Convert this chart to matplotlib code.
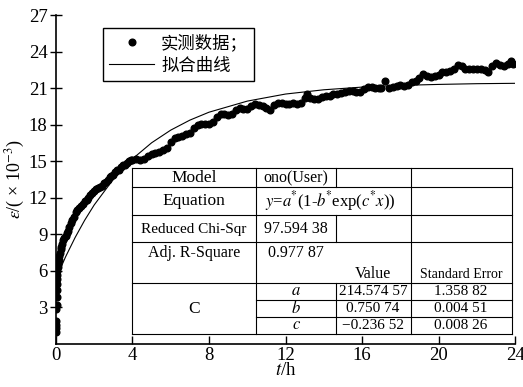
import matplotlib
matplotlib.use("Agg")
import matplotlib.pyplot as plt
from matplotlib.lines import Line2D

plt.rcParams['font.family'] = ['Liberation Serif', 'Noto Sans CJK SC']
plt.rcParams['mathtext.fontset'] = 'stix'

# measured strain (x 10^-3) vs time (h)
t_meas = [0.0, 0.0, 0.0, 0.0, 0.02, 0.03, 0.04, 0.05, 0.05, 0.06, 0.07, 0.08, 0.1, 0.12,
          0.14, 0.17, 0.2, 0.24, 0.28, 0.33, 0.38, 0.44, 0.5, 0.56, 0.62, 0.7, 0.78, 0.86,
          0.95, 1.04, 1.1, 1.2, 1.3, 1.4, 1.5, 1.6, 1.7, 1.8, 1.9, 2.0, 2.1, 2.2, 2.3, 2.4,
          2.5, 2.6, 2.7, 2.8, 2.9, 3.0, 3.1, 3.2, 3.3, 3.4, 3.5, 3.6, 3.7, 3.8, 3.9,
          4.0, 4.2, 4.4, 4.6, 4.8, 5.0, 5.2, 5.4, 5.6, 5.8, 6.0, 6.2, 6.4, 6.6, 6.8, 7.0,
          7.2, 7.4, 7.6, 7.8, 8.0, 8.2, 8.4, 8.6, 8.8, 9.0, 9.2, 9.4, 9.6, 9.8, 10.0, 10.2,
          10.4, 10.6, 10.8, 11.0, 11.2, 11.4, 11.6, 11.8, 12.0, 12.2, 12.4, 12.6, 12.8,
          13.0, 13.1, 13.3, 13.5, 13.7, 13.9, 14.1, 14.3, 14.5, 14.7, 14.9, 15.1, 15.3,
          15.5, 15.7, 15.9, 16.1, 16.3, 16.5, 16.7, 16.9, 17.0, 17.2, 17.4, 17.6, 17.8,
          18.0, 18.2, 18.4, 18.6, 18.8, 19.0, 19.2, 19.4, 19.6, 19.8, 20.0, 20.2, 20.4,
          20.6, 20.8, 21.0, 21.2, 21.4, 21.6, 21.8, 22.0, 22.2, 22.4, 22.6, 22.8, 23.0,
          23.2, 23.4, 23.6, 23.8, 23.9]
eps_meas = [1.0, 1.3, 1.6, 1.9, 2.9, 3.2, 3.9, 4.4, 4.9, 5.3, 5.7, 6.0, 6.3, 6.6,
            6.9, 7.2, 7.5, 7.8, 8.0, 8.2, 8.5, 8.7, 8.9, 9.1, 9.3, 9.6, 9.9, 10.2,
            10.4, 10.8, 11.0, 11.2, 11.3, 11.5, 11.7, 11.8, 12.0, 12.2, 12.4, 12.6, 12.7, 12.8, 12.9, 13.0,
            13.2, 13.3, 13.5, 13.7, 13.8, 13.9, 14.1, 14.3, 14.3, 14.5, 14.7, 14.7, 14.9, 15.0, 15.1,
            15.1, 15.2, 15.1, 15.2, 15.4, 15.6, 15.7, 15.8, 15.9, 16.1, 16.6, 16.9, 17.0, 17.1, 17.2, 17.3,
            17.7, 18.0, 18.1, 18.1, 18.1, 18.2, 18.6, 18.9, 18.9, 18.8, 18.9, 19.2, 19.4, 19.3, 19.3, 19.5,
            19.7, 19.6, 19.5, 19.4, 19.2, 19.6, 19.8, 19.8, 19.7, 19.7, 19.8, 19.7, 19.8,
            20.2, 20.5, 20.2, 20.1, 20.1, 20.3, 20.4, 20.4, 20.5, 20.5, 20.6, 20.7, 20.8,
            20.8, 20.7, 20.7, 20.9, 21.1, 21.1, 21.0, 21.0, 21.0, 21.6, 21.0, 21.1, 21.2,
            21.3, 21.2, 21.3, 21.5, 21.6, 21.8, 22.2, 22.0, 21.9, 22.0, 22.1, 22.3, 22.3,
            22.4, 22.6, 22.9, 22.8, 22.6, 22.6, 22.6, 22.6, 22.6, 22.5, 22.3, 22.8, 23.1,
            22.9, 22.8, 23.0, 23.2, 23.0]

# fitted curve
t_fit = [0, 0.5, 1, 1.5, 2, 3, 4, 5, 6, 7, 8, 10, 12, 14, 16, 18, 20, 22, 24]
eps_fit = [5.35, 7.15, 8.74, 10.16, 11.42, 13.53, 15.20, 16.52, 17.56, 18.38, 19.03,
           19.94, 20.52, 20.87, 21.09, 21.23, 21.31, 21.37, 21.40]

fig = plt.figure(figsize=(5.23, 3.87), dpi=100)
ax = fig.add_axes([0.107, 0.111, 0.878, 0.850])

ax.plot(t_fit, eps_fit, color='black', lw=0.8)
ax.plot(t_meas, eps_meas, 'o', color='black', ms=4.8, mec='black')

ax.set_xlim(0, 24)
ax.set_ylim(0, 27)
ax.set_xticks(range(0, 25, 4))
ax.set_yticks(range(3, 28, 3))
ax.spines['top'].set_visible(False)
ax.spines['right'].set_visible(False)
for s in ['left', 'bottom']:
    ax.spines[s].set_linewidth(1.2)
ax.tick_params(axis='x', direction='in', length=6, width=1, labelsize=13.5, pad=2)
ax.tick_params(axis='y', direction='inout', length=8, width=1, labelsize=13.5, pad=2)
ax.set_xlabel(r'$t$/h', fontsize=13.5, labelpad=-1)
ax.set_ylabel(r'$\varepsilon$/( × 10$^{-3}$)', fontsize=13, labelpad=1)

# legend
handles = [Line2D([], [], marker='o', ls='none', color='black', ms=4.8),
           Line2D([], [], color='black', lw=0.8)]
leg = ax.legend(handles, ['实测数据；', '拟合曲线'], loc='upper left',
                bbox_to_anchor=((103 - 56) / 459, (344 - 28) / 329), borderaxespad=0,
                fancybox=False, framealpha=1, edgecolor='black', handlelength=2.6,
                prop={'family': ['Noto Sans CJK SC'], 'size': 12.5}, labelspacing=0.25,
                borderpad=0.35, handletextpad=0.4)
leg.get_frame().set_linewidth(1.0)


# parameter table, pixel layout converted to axes fraction
def fx(px):
    return (px - 56) / 459


def fy(py):
    return (344 - py) / 329


def hline(y, x0, x1):
    ax.plot([fx(x0), fx(x1)], [fy(y), fy(y)], color='black', lw=0.8,
            transform=ax.transAxes, clip_on=False)


def vline(x, y0, y1):
    ax.plot([fx(x), fx(x)], [fy(y0), fy(y1)], color='black', lw=0.8,
            transform=ax.transAxes, clip_on=False)


ax.add_patch(plt.Rectangle((fx(132), fy(334)), fx(512) - fx(132), fy(168) - fy(334),
                           transform=ax.transAxes, facecolor='white', edgecolor='none', zorder=2))
for y in [168, 187, 215, 242, 283, 334]:
    hline(y, 132, 512)
for y in [300, 317]:
    hline(y, 256, 512)
for x in [132, 256, 411, 512]:
    vline(x, 168, 334)
for y0, y1 in [(168, 187), (215, 242), (283, 334)]:
    vline(336, y0, y1)


def cell(x, y, s, size=11.5, **kw):
    ax.text(fx(x), fy(y), s, transform=ax.transAxes, ha='center', va='center',
            fontsize=size, zorder=3, **kw)


cell(194, 178, 'Model', 12.5)
cell(296, 178, 'ono(User)', 11.5)
cell(194, 201, 'Equation', 12.5)
cell(330, 201, r'$y$=$a$$^{*}$(1-$b$$^{*}$exp($c$$^{*}$$x$))', 12)
cell(194, 229, 'Reduced Chi-Sqr', 11)
cell(296, 229, '97.594 38', 11.5)
cell(194, 253, 'Adj. R-Square', 11.5)
cell(296, 253, '0.977 87', 11.5)
cell(373, 274, 'Value', 11.5)
cell(461, 274, 'Standard Error', 10)
cell(194, 309, 'C', 12.5)
for yy, p, v, e in [(291, 'a', '214.574 57', '1.358 82'),
                    (308, 'b', '0.750 74', '0.004 51'),
                    (325, 'c', '\u22120.236 52', '0.008 26')]:
    cell(296, yy, '$' + p + '$', 12)
    cell(373, yy, v, 11)
    cell(461, yy, e, 11)

fig.savefig('out.png', dpi=100)
